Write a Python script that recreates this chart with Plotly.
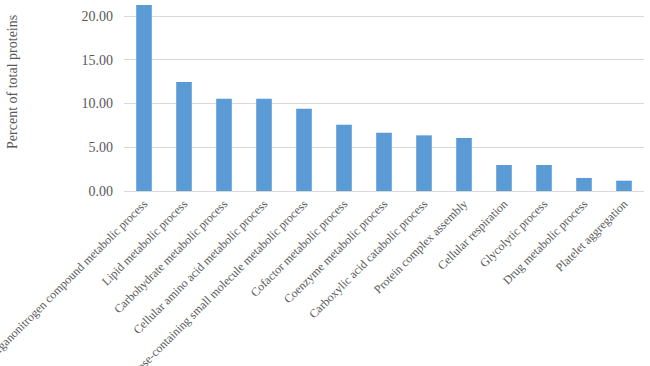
import plotly.graph_objects as go

categories = [
    "Organonitrogen compound metabolic process",
    "Lipid metabolic process",
    "Carbohydrate metabolic process",
    "Cellular amino acid metabolic process",
    "Ribose-containing small molecule metabolic process",
    "Cofactor metabolic process",
    "Coenzyme metabolic process",
    "Carboxylic acid catabolic process",
    "Protein complex assembly",
    "Cellular respiration",
    "Glycolytic process",
    "Drug metabolic process",
    "Platelet aggregation",
]
values = [21.26, 12.46, 10.55, 10.55, 9.41, 7.58, 6.66, 6.36, 6.06, 2.97, 2.97, 1.49, 1.18]
y_ticks = [0, 5, 10, 15, 20]
y_tick_labels = ["0.00", "5.00", "10.00", "15.00", "20.00"]

FONT = "Liberation Serif, Times New Roman, serif"
GRAY = "#595959"

fig = go.Figure(go.Bar(x=categories, y=values, marker_color="#5b9bd5", marker_line_width=0))

fig.update_layout(
    width=650, height=366,
    margin=dict(l=124, r=6, t=0, b=175),
    paper_bgcolor="white", plot_bgcolor="white",
    bargap=0.61,
    showlegend=False,
    font=dict(family=FONT, color=GRAY),
)
fig.update_xaxes(
    tickangle=-45, tickfont=dict(family=FONT, size=12, color=GRAY),
    showgrid=False, showline=True, linecolor="#d9d9d9", linewidth=1,
    ticks="", automargin=False,
)
fig.update_yaxes(
    range=[0, 21.83], tickvals=y_ticks, ticktext=y_tick_labels,
    tickfont=dict(family=FONT, size=14, color=GRAY),
    showgrid=True, gridcolor="#d9d9d9", gridwidth=1, zeroline=False,
    showline=False, ticks="", ticklen=0, automargin=False,
    ticklabelstandoff=10,
)
fig.add_annotation(
    text="Percent of total proteins", textangle=-90,
    xref="paper", yref="paper", x=-0.2135, y=0.571,
    showarrow=False, font=dict(family=FONT, size=14, color=GRAY),
    xanchor="center", yanchor="middle",
)
fig.write_html(
    "out.html",
    config={"displayModeBar": False},
    post_script="document.body.style.margin='0';document.body.style.overflow='hidden';",
)
